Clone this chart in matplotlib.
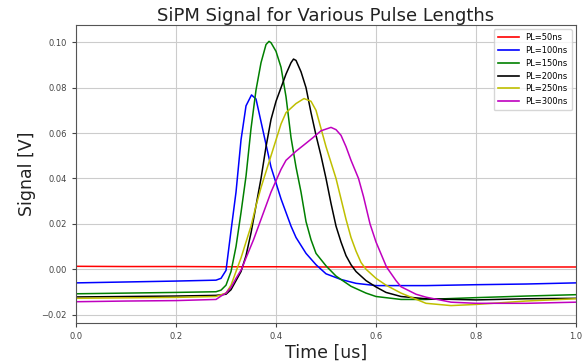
import matplotlib
matplotlib.use("Agg")
import matplotlib.pyplot as plt

# PL=50ns (red)
t_50 = [0.0, 0.1, 0.2, 0.3, 0.4, 0.5, 0.6, 0.7, 0.8, 0.9, 1.0]
v_50 = [0.0013, 0.0012, 0.0012, 0.0011, 0.0011, 0.0010, 0.0010, 0.0010, 0.0010, 0.0010, 0.0010]

# PL=100ns (blue)
t_100 = [0.0, 0.1, 0.2, 0.28, 0.29, 0.30, 0.31, 0.32, 0.33, 0.34, 0.351, 0.36, 0.37, 0.38, 0.39,
         0.40, 0.41, 0.42, 0.43, 0.44, 0.46, 0.48, 0.50, 0.53, 0.56, 0.60, 0.70, 0.80, 0.90, 1.0]
v_100 = [-0.006, -0.0056, -0.0052, -0.0048, -0.004, -0.0005, 0.017, 0.034, 0.057, 0.072, 0.0768, 0.075,
         0.065, 0.055, 0.045, 0.038, 0.031, 0.025, 0.019, 0.014, 0.007, 0.002, -0.002, -0.0045,
         -0.0062, -0.0072, -0.0072, -0.0068, -0.0065, -0.006]

# PL=150ns (green)
t_150 = [0.0, 0.1, 0.2, 0.28, 0.29, 0.30, 0.31, 0.32, 0.33, 0.34, 0.35, 0.36, 0.37, 0.38, 0.386,
         0.39, 0.40, 0.41, 0.42, 0.43, 0.44, 0.45, 0.46, 0.47, 0.48, 0.50, 0.52, 0.55, 0.58, 0.60,
         0.65, 0.70, 0.80, 0.90, 1.0]
v_150 = [-0.0108, -0.0105, -0.0102, -0.0099, -0.0092, -0.007, -0.001, 0.010, 0.025, 0.041, 0.062,
         0.079, 0.091, 0.099, 0.1004, 0.0998, 0.096, 0.089, 0.076, 0.058, 0.045, 0.034, 0.021,
         0.013, 0.007, 0.0015, -0.003, -0.0075, -0.0105, -0.012, -0.0133, -0.0133, -0.0125,
         -0.0118, -0.0112]

# PL=200ns (black)
t_200 = [0.0, 0.1, 0.2, 0.28, 0.30, 0.31, 0.32, 0.33, 0.34, 0.35, 0.36, 0.37, 0.38, 0.39, 0.40,
         0.41, 0.42, 0.43, 0.435, 0.44, 0.45, 0.46, 0.47, 0.48, 0.49, 0.50, 0.51, 0.52, 0.53, 0.54,
         0.55, 0.56, 0.58, 0.60, 0.62, 0.65, 0.70, 0.80, 0.90, 1.0]
v_200 = [-0.0122, -0.012, -0.0118, -0.0115, -0.011, -0.009, -0.005, -0.001, 0.006, 0.016, 0.028,
         0.040, 0.054, 0.066, 0.074, 0.080, 0.086, 0.091, 0.0926, 0.092, 0.087, 0.080, 0.069,
         0.059, 0.050, 0.040, 0.029, 0.019, 0.012, 0.006, 0.002, -0.001, -0.005, -0.0078,
         -0.0102, -0.012, -0.013, -0.0135, -0.013, -0.0128]

# PL=250ns (yellow)
t_250 = [0.0, 0.1, 0.2, 0.28, 0.30, 0.31, 0.32, 0.33, 0.34, 0.35, 0.36, 0.37, 0.38, 0.39, 0.40,
         0.41, 0.42, 0.44, 0.456, 0.47, 0.48, 0.49, 0.50, 0.51, 0.52, 0.53, 0.54, 0.55, 0.56,
         0.57, 0.58, 0.60, 0.62, 0.65, 0.70, 0.75, 0.80, 0.90, 1.0]
v_250 = [-0.0128, -0.0126, -0.0124, -0.012, -0.0105, -0.007, -0.001, 0.005, 0.012, 0.019, 0.028,
         0.036, 0.043, 0.050, 0.057, 0.064, 0.069, 0.073, 0.0752, 0.074, 0.070, 0.062, 0.054,
         0.047, 0.040, 0.031, 0.022, 0.014, 0.008, 0.003, 0.0, -0.004, -0.007, -0.0105,
         -0.015, -0.016, -0.0155, -0.014, -0.013]

# PL=300ns (magenta)
t_300 = [0.0, 0.1, 0.2, 0.28, 0.29, 0.30, 0.31, 0.32, 0.331, 0.34, 0.355, 0.37, 0.38, 0.39, 0.40,
         0.41, 0.42, 0.44, 0.46, 0.474, 0.49, 0.51, 0.52, 0.53, 0.54, 0.55, 0.565, 0.575, 0.588,
         0.60, 0.621, 0.64, 0.65, 0.68, 0.70, 0.75, 0.80, 0.90, 1.0]
v_300 = [-0.0143, -0.014, -0.0138, -0.0133, -0.0118, -0.0105, -0.008, -0.004, 0.0, 0.005, 0.013,
         0.022, 0.028, 0.034, 0.039, 0.044, 0.048, 0.052, 0.0555, 0.058, 0.061, 0.0625, 0.0615,
         0.059, 0.054, 0.048, 0.040, 0.032, 0.020, 0.012, 0.001, -0.005, -0.0077, -0.011,
         -0.0123, -0.0145, -0.015, -0.015, -0.0145]

series = [
    (t_50, v_50, "PL=50ns", "r"),
    (t_100, v_100, "PL=100ns", "b"),
    (t_150, v_150, "PL=150ns", "g"),
    (t_200, v_200, "PL=200ns", "k"),
    (t_250, v_250, "PL=250ns", "y"),
    (t_300, v_300, "PL=300ns", "m"),
]

x_ticks = [0.0, 0.2, 0.4, 0.6, 0.8, 1.0]
y_ticks = [-0.02, 0.00, 0.02, 0.04, 0.06, 0.08, 0.10]

fig = plt.figure(figsize=(5.83, 3.63), dpi=100)
ax = fig.add_axes([0.1304, 0.1094, 0.8576, 0.8217])

for t, v, lab, c in series:
    ax.plot(t, v, color=c, lw=1.1, label=lab)

ax.set_xlim(0.0, 1.0)
ax.set_ylim(-0.0238, 0.1076)
ax.set_xticks(x_ticks)
ax.set_yticks(y_ticks)
ax.set_xticklabels([f"{x:.1f}" for x in x_ticks])
ax.set_yticklabels([f"{y:.2f}".replace("-", "\u2212") for y in y_ticks])
ax.tick_params(labelsize=6, colors="#444444", length=3, width=0.8)
ax.grid(True, color="#cccccc", lw=0.8)
for s in ax.spines.values():
    s.set_color("#555555")
    s.set_linewidth(0.8)

ax.set_title("SiPM Signal for Various Pulse Lengths", fontsize=13, color="#222222", pad=3)
ax.set_xlabel("Time [us]", fontsize=12.5, color="#222222", labelpad=2)
ax.set_ylabel("Signal [V]", fontsize=12.5, color="#222222", labelpad=4)

leg = ax.legend(loc="upper right", fontsize=6, frameon=True, handlelength=2.5,
                borderpad=0.5, labelspacing=0.45)
leg.get_frame().set_edgecolor("#cccccc")
for line in leg.get_lines():
    line.set_linewidth(1.2)

fig.savefig("out.png", dpi=100)
